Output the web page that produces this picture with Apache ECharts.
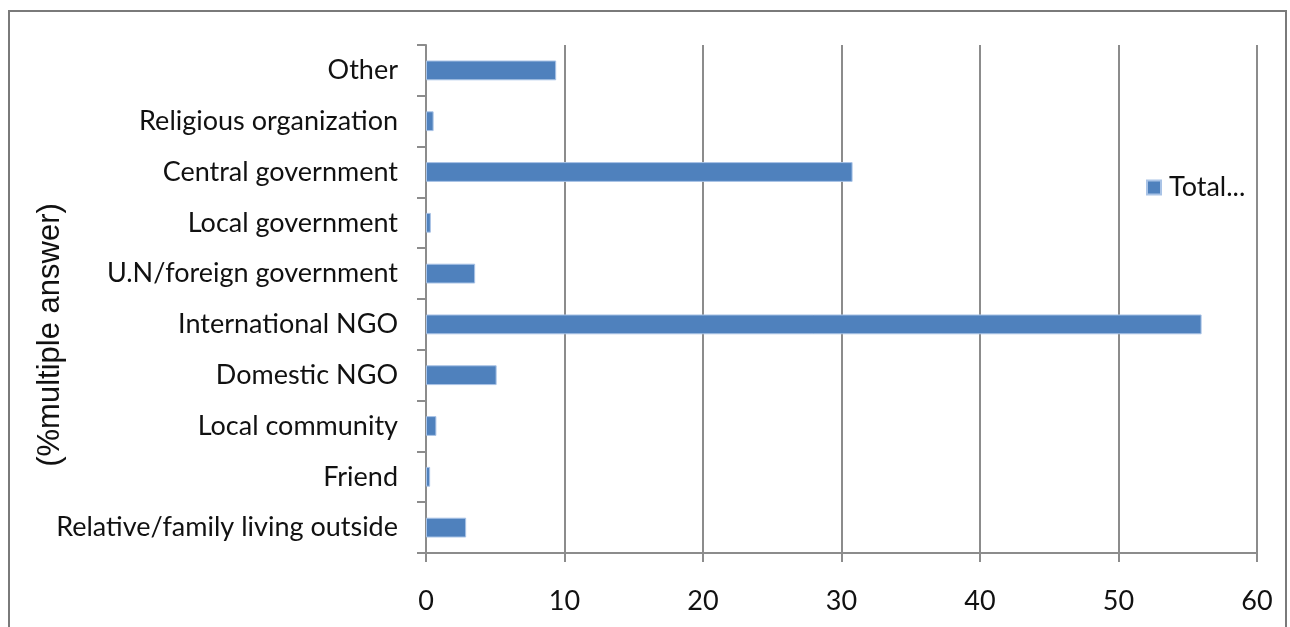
<!DOCTYPE html>
<html>
<head>
<meta charset="utf-8">
<script src="https://cdn.jsdelivr.net/npm/echarts@6/dist/echarts.min.js"></script>
<style>
  html, body { margin: 0; padding: 0; background: #fff; }
  #chart { width: 1290px; height: 627px; }
</style>
</head>
<body>
<div id="chart"></div>
<script>
// Sources of assistance, listed bottom to top
const categories = [
  'Relative/family living outside',
  'Friend',
  'Local community',
  'Domestic NGO',
  'International NGO',
  'U.N/foreign government',
  'Local government',
  'Central government',
  'Religious organization',
  'Other'
];
const totalValues = [2.9, 0.3, 0.75, 5.1, 56.0, 3.55, 0.35, 30.8, 0.55, 9.4];
const seriesName = 'Total...';
const axisTitle = '(%multiple answer)';
const xMin = 0, xMax = 60, xStep = 10;

const labelFont = 'Lato, "Open Sans", sans-serif';
const gridColor = '#8c8c8c';

const chart = echarts.init(document.getElementById('chart'));
chart.setOption({
  backgroundColor: '#ffffff',
  animation: false,
  grid: { left: 426, right: 33, top: 45, bottom: 74, containLabel: false },
  legend: {
    data: [seriesName],
    left: 1141,
    top: 169,
    icon: 'rect',
    itemWidth: 14,
    itemHeight: 14,
    itemGap: 8,
    textStyle: { fontFamily: labelFont, fontSize: 27, color: '#111', padding: [0, 0, 0, 3] }
  },
  xAxis: {
    type: 'value',
    min: xMin,
    max: xMax,
    interval: xStep,
    axisLine: { show: true, lineStyle: { color: gridColor, width: 2 } },
    axisTick: { show: true, length: 9, lineStyle: { color: gridColor, width: 2 } },
    axisLabel: { margin: 35, fontFamily: labelFont, fontSize: 27, color: '#111' },
    splitLine: { show: true, lineStyle: { color: gridColor, width: 2 } }
  },
  yAxis: {
    type: 'category',
    data: categories,
    boundaryGap: true,
    axisLine: { show: true, lineStyle: { color: gridColor, width: 2 } },
    axisTick: { show: true, length: 9, lineStyle: { color: gridColor, width: 2 } },
    axisLabel: { margin: 28, fontFamily: labelFont, fontSize: 27, color: '#111' },
    splitLine: { show: false }
  },
  series: [{
    name: seriesName,
    type: 'bar',
    data: totalValues,
    barCategoryGap: '61%',
    itemStyle: { color: '#4f81bd', borderColor: '#a9c3e6', borderWidth: 1 }
  }],
  graphic: [
    {
      type: 'rect',
      shape: { x: 9, y: 11, width: 1277, height: 640 },
      style: { fill: 'none', stroke: '#7a7a7a', lineWidth: 2 },
      silent: true
    },
    {
      type: 'text',
      x: 50,
      y: 335,
      rotation: Math.PI / 2,
      style: {
        text: axisTitle,
        fontFamily: '"Liberation Sans", Arial, sans-serif',
        fontSize: 31,
        fill: '#111',
        align: 'center',
        verticalAlign: 'middle'
      }
    }
  ]
});
</script>
</body>
</html>
